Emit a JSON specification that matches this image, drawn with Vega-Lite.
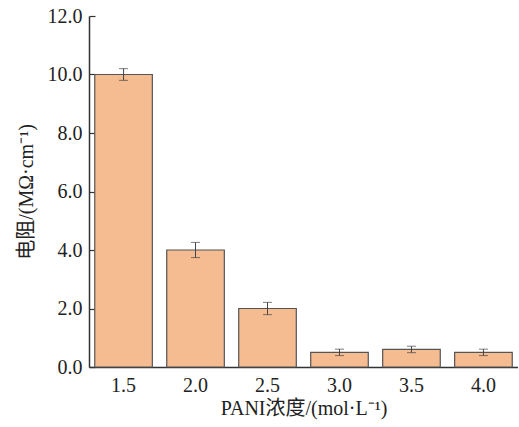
{
  "$schema": "https://vega.github.io/schema/vega-lite/v6.json",
  "autosize": {"type": "none"},
  "padding": {"left": 89, "top": 16, "right": 0, "bottom": 60},
  "width": 429,
  "height": 351,
  "background": "white",
  "config": {
    "view": {"stroke": null},
    "font": "Liberation Serif",
    "axis": {
      "labelFont": "Liberation Serif",
      "titleFont": "Liberation Serif, Noto Sans CJK SC",
      "labelColor": "#222",
      "titleColor": "#222",
      "domainColor": "#333",
      "tickColor": "#333",
      "domainWidth": 1.5,
      "tickWidth": 1.2,
      "grid": false,
      "titleFontWeight": "normal",
      "labelFontSize": 20,
      "titleFontSize": 20
    }
  },
  "data": {
    "values": [
      {"c": "1.5", "v": 10.0, "lo": 9.8, "hi": 10.2},
      {"c": "2.0", "v": 4.0, "lo": 3.74, "hi": 4.26},
      {"c": "2.5", "v": 2.0, "lo": 1.79, "hi": 2.21},
      {"c": "3.0", "v": 0.5, "lo": 0.39, "hi": 0.61},
      {"c": "3.5", "v": 0.6, "lo": 0.49, "hi": 0.71},
      {"c": "4.0", "v": 0.5, "lo": 0.39, "hi": 0.61}
    ]
  },
  "encoding": {
    "x": {
      "field": "c",
      "type": "nominal",
      "sort": null,
      "scale": {"paddingInner": 0.2, "paddingOuter": 0.08},
      "axis": {
        "title": "PANI浓度/(mol·L⁻¹)",
        "labelAngle": 0,
        "tickSize": -6,
        "labelPadding": 14,
        "titlePadding": 3
      }
    }
  },
  "layer": [
    {
      "mark": {"type": "bar", "fill": "#F5BC91", "stroke": "#555", "strokeWidth": 1.2},
      "encoding": {
        "y": {
          "field": "v",
          "type": "quantitative",
          "scale": {"domain": [0, 12], "nice": false},
          "axis": {
            "title": "电阻/(MΩ·cm⁻¹)",
            "values": [0, 1, 2, 3, 4, 5, 6, 7, 8, 9, 10, 11, 12],
            "labelExpr": "datum.value % 2 === 0 ? format(datum.value, '.1f') : ''",
            "tickSize": {"condition": {"test": "datum.value % 2 === 1", "value": -3}, "value": -6},
            "labelPadding": 13,
            "titlePadding": 11
          }
        }
      }
    },
    {
      "mark": {"type": "rule", "color": "#444", "strokeWidth": 1},
      "encoding": {"y": {"field": "lo", "type": "quantitative"}, "y2": {"field": "hi"}}
    },
    {
      "mark": {"type": "tick", "color": "#444", "size": 9, "thickness": 1, "orient": "horizontal"},
      "encoding": {"y": {"field": "lo", "type": "quantitative"}}
    },
    {
      "mark": {"type": "tick", "color": "#444", "size": 9, "thickness": 1, "orient": "horizontal"},
      "encoding": {"y": {"field": "hi", "type": "quantitative"}}
    }
  ]
}
